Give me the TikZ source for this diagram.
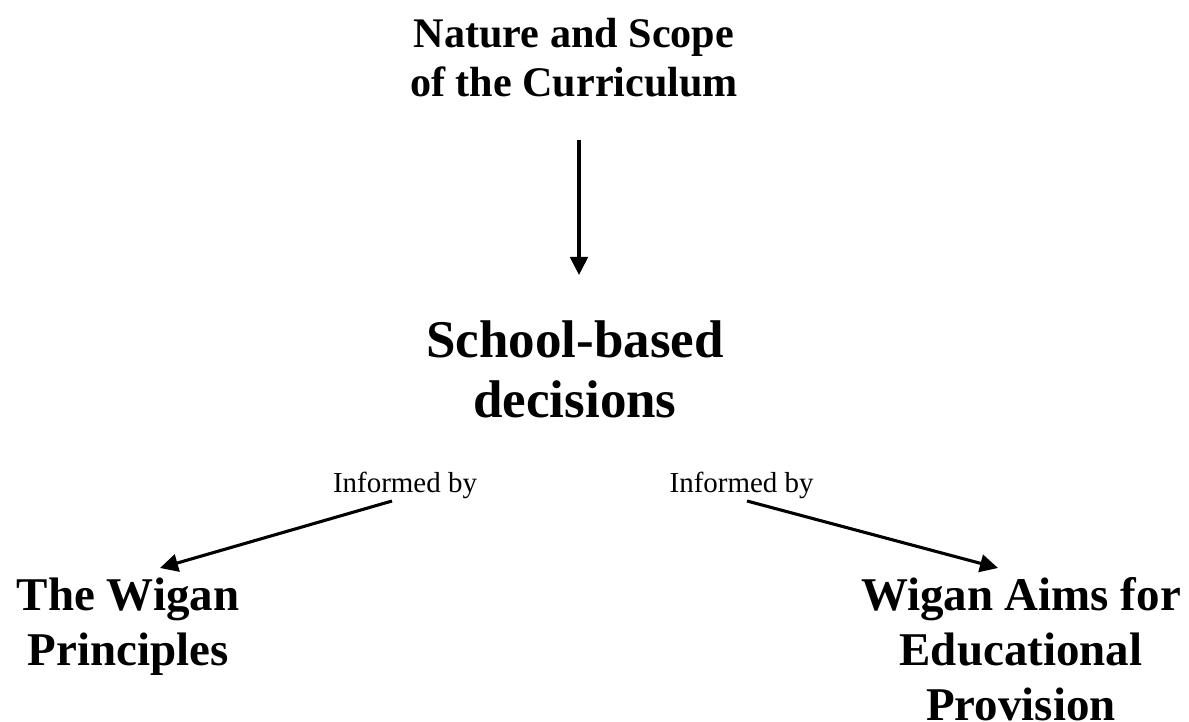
\documentclass[tikz,border=0pt]{standalone}
\usepackage{fontspec}
\setmainfont{Liberation Serif}
\usepackage{tikz}
\usetikzlibrary{arrows.meta}
\usetikzlibrary{positioning}

\begin{document}
\begin{tikzpicture}[every node/.style={inner sep=0pt,align=center,anchor=base},
  arr/.style={line width=2.2pt,-{Triangle[length=0.45cm,width=0.44cm]}}]
  \useasboundingbox (0,0) rectangle (29.725,-18.05);
  % last line of each node sits on the given baseline
  \node (nature) at (14.35,-2.425)[font=\bfseries\fontsize{30}{35}\selectfont]{Nature and Scope\\of the Curriculum};
  \node (school) at (14.375,-10.425)[font=\bfseries\fontsize{37.7}{42}\selectfont]{School-based\\decisions};
  \node (infl) at (10.125,-12.3)[font=\fontsize{20.6}{24}\selectfont]{Informed by};
  \node (infr) at (18.54,-12.3)[font=\fontsize{20.6}{24}\selectfont]{Informed by};
  \node (princ) at (3.2,-16.625)[font=\bfseries\fontsize{33.4}{39.1}\selectfont]{The Wigan\\Principles};
  \node (aims) at (25.525,-18.0)[font=\bfseries\fontsize{33.4}{39.1}\selectfont]{Wigan Aims for\\Educational\\Provision};

  \coordinate (n1) at (14.475,-3.5);
  \coordinate (s1) at (14.475,-6.875);
  \coordinate (l1) at (9.8,-12.525);
  \coordinate (p1) at (4.0,-14.2);
  \coordinate (r1) at (18.675,-12.525);
  \coordinate (a1) at (24.95,-14.2);
  \draw[arr](n1)--(s1);
  \draw[arr](l1)--(p1);
  \draw[arr](r1)--(a1);
\end{tikzpicture}
\end{document}
